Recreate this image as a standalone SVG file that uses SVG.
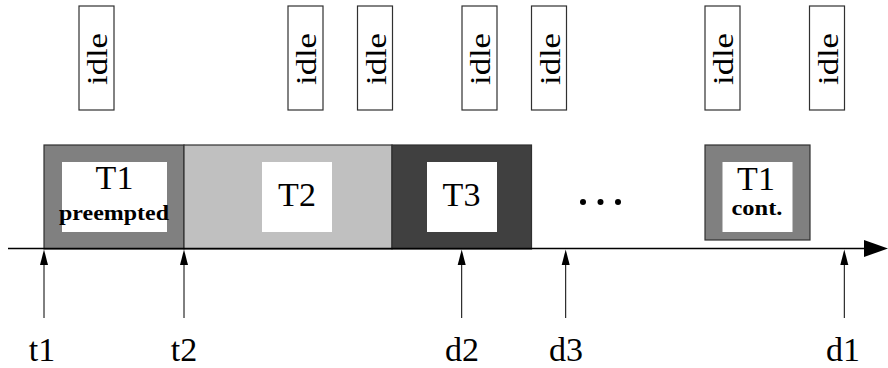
<svg xmlns="http://www.w3.org/2000/svg" width="888" height="368" viewBox="0 0 888 368">
<defs>
<style>
.box{stroke:#303030;stroke-width:1.2}
.inner{fill:#fff;stroke:none}
.idle{fill:#fff;stroke:#303030;stroke-width:1.2}
.it{font-family:"Liberation Serif","Times New Roman",serif;font-size:30px;fill:#000}
.lbl{font-family:"Liberation Serif","Times New Roman",serif;font-size:34px;fill:#000;text-anchor:middle}
.sub{font-family:"Liberation Serif","Times New Roman",serif;font-size:20px;font-weight:bold;fill:#000;text-anchor:middle}
.ax{stroke:#000;stroke-width:1;fill:none}
.hd{fill:#000}
</style>
</defs>

<g id="idle1"><rect class="idle" x="79" y="6" width="35" height="104"/><text class="it" x="107" y="59" text-anchor="middle" textLength="52" lengthAdjust="spacingAndGlyphs" transform="rotate(-90 107 59)">idle</text></g>
<g id="idle2"><rect class="idle" x="288" y="6" width="35" height="104"/><text class="it" x="316" y="59" text-anchor="middle" textLength="52" lengthAdjust="spacingAndGlyphs" transform="rotate(-90 316 59)">idle</text></g>
<g id="idle3"><rect class="idle" x="357.5" y="6" width="35" height="104"/><text class="it" x="385.5" y="59" text-anchor="middle" textLength="52" lengthAdjust="spacingAndGlyphs" transform="rotate(-90 385.5 59)">idle</text></g>
<g id="idle4"><rect class="idle" x="462" y="6" width="35" height="104"/><text class="it" x="490" y="59" text-anchor="middle" textLength="52" lengthAdjust="spacingAndGlyphs" transform="rotate(-90 490 59)">idle</text></g>
<g id="idle5"><rect class="idle" x="531.5" y="6" width="35" height="104"/><text class="it" x="559.5" y="59" text-anchor="middle" textLength="52" lengthAdjust="spacingAndGlyphs" transform="rotate(-90 559.5 59)">idle</text></g>
<g id="idle6"><rect class="idle" x="705" y="6" width="35" height="104"/><text class="it" x="733" y="59" text-anchor="middle" textLength="52" lengthAdjust="spacingAndGlyphs" transform="rotate(-90 733 59)">idle</text></g>
<g id="idle7"><rect class="idle" x="809.5" y="6" width="35" height="104"/><text class="it" x="837.5" y="59" text-anchor="middle" textLength="52" lengthAdjust="spacingAndGlyphs" transform="rotate(-90 837.5 59)">idle</text></g>

<g id="T1">
<rect class="box" x="44" y="145" width="140" height="104" fill="#808080"/>
<rect class="inner" x="62" y="162" width="105" height="70"/>
<text class="lbl" x="114.5" y="189">T1</text>
<text class="sub" x="114" y="220" textLength="110" lengthAdjust="spacingAndGlyphs">preempted</text>
</g>
<g id="T2">
<rect class="box" x="184" y="145" width="208" height="104" fill="#c0c0c0"/>
<rect class="inner" x="262" y="162" width="70" height="70"/>
<text class="lbl" x="297" y="206">T2</text>
</g>
<g id="T3">
<rect class="box" x="392" y="145" width="139.5" height="104" fill="#404040"/>
<rect class="inner" x="427" y="162" width="70" height="70"/>
<text class="lbl" x="461.5" y="206">T3</text>
</g>
<g id="dots">
<circle cx="583" cy="202" r="3"/><circle cx="600.5" cy="202" r="3"/><circle cx="618" cy="202" r="3"/>
</g>
<g id="T1cont">
<rect class="box" x="705" y="145" width="105" height="95" fill="#808080"/>
<rect class="inner" x="722.5" y="162" width="70" height="70"/>
<text class="lbl" x="756" y="190">T1</text>
<text class="sub" x="757" y="215" textLength="51" lengthAdjust="spacingAndGlyphs">cont.</text>
</g>

<g id="connectors">
<line x1="8" y1="248.5" x2="866" y2="248.5" stroke="#000" stroke-width="1.5"/>
<path class="hd" d="M864,240 L888,248.5 L864,257 Z"/>
<line class="ax" x1="44" y1="318" x2="44" y2="262"/>
<path class="hd" d="M40,265 L44,249.5 L48,265 Z"/>
<line class="ax" x1="184" y1="318" x2="184" y2="262"/>
<path class="hd" d="M180,265 L184,249.5 L188,265 Z"/>
<line class="ax" x1="461.7" y1="318" x2="461.7" y2="262"/>
<path class="hd" d="M457.7,265 L461.7,249.5 L465.7,265 Z"/>
<line class="ax" x1="565.7" y1="318" x2="565.7" y2="262"/>
<path class="hd" d="M561.7,265 L565.7,249.5 L569.7,265 Z"/>
<line class="ax" x1="844.3" y1="318" x2="844.3" y2="262"/>
<path class="hd" d="M840.3,265 L844.3,249.5 L848.3,265 Z"/>
</g>

<g id="labels">
<text class="lbl" x="42" y="361">t1</text>
<text class="lbl" x="184" y="361">t2</text>
<text class="lbl" x="462" y="361">d2</text>
<text class="lbl" x="566" y="361">d3</text>
<text class="lbl" x="843" y="361">d1</text>
</g>
</svg>
